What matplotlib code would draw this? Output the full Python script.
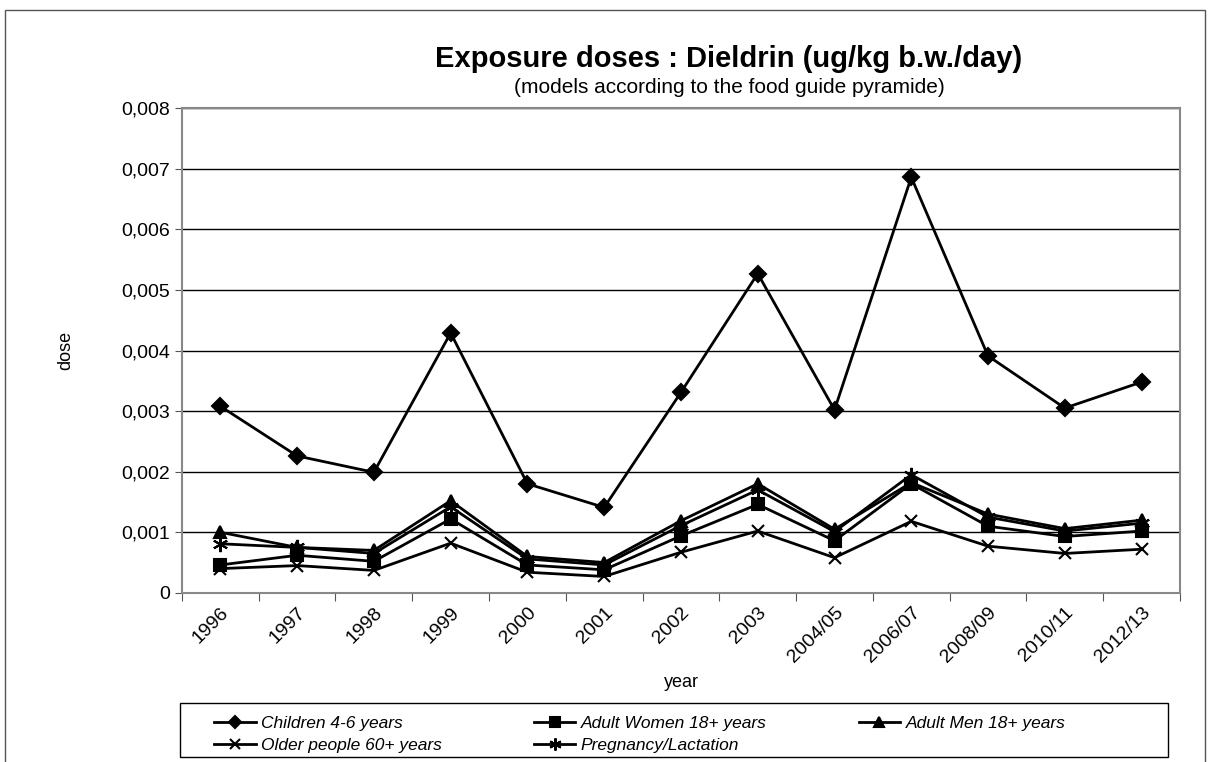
import matplotlib.pyplot as plt
from matplotlib.ticker import FuncFormatter, MultipleLocator
from matplotlib.patches import Rectangle

plt.rcParams['font.family'] = ['Liberation Sans', 'DejaVu Sans']

years = ["1996", "1997", "1998", "1999", "2000", "2001", "2002", "2003",
         "2004/05", "2006/07", "2008/09", "2010/11", "2012/13"]

children = [0.00308, 0.00226, 0.00199, 0.00429, 0.00180, 0.00141, 0.00331, 0.00527,
            0.00302, 0.00686, 0.00391, 0.00305, 0.00348]
women = [0.00046, 0.00062, 0.00052, 0.00122, 0.00046, 0.00038, 0.00094, 0.00146,
         0.00086, 0.00180, 0.00110, 0.00093, 0.00102]
men = [0.00100, 0.00075, 0.00070, 0.00152, 0.00060, 0.00050, 0.00119, 0.00180,
       0.00105, 0.00182, 0.00130, 0.00106, 0.00120]
older = [0.00040, 0.00045, 0.00037, 0.00082, 0.00034, 0.00027, 0.00067, 0.00102,
         0.00058, 0.00118, 0.00077, 0.00065, 0.00072]
pregnancy = [0.00081, 0.00075, 0.00065, 0.00142, 0.00056, 0.00046, 0.00111, 0.00170,
             0.00101, 0.00195, 0.00125, 0.00102, 0.00115]

series = [
    ("Children 4-6 years", children, "D", 8),
    ("Adult Women 18+ years", women, "s", 9),
    ("Adult Men 18+ years", men, "^", 9),
    ("Older people 60+ years", older, "x", 9),
    ("Pregnancy/Lactation", pregnancy, (6, 2, 0), 11),
]

fig = plt.figure(figsize=(12.09, 7.62), dpi=100)
# outer chart frame
fig.patches.append(Rectangle((0.004, -0.05), 0.993, 1.037, transform=fig.transFigure,
                             fill=False, edgecolor='#555555', linewidth=1))
# legend frame (drawn separately so it spans the full width)
fig.patches.append(Rectangle((0.1489, 0.0066), 0.8172, 0.0709, transform=fig.transFigure,
                             fill=False, edgecolor='black', linewidth=1))
ax = fig.add_axes([0.1505, 0.222, 0.8255, 0.636])

x = range(len(years))
handles = []
for name, vals, mk, ms in series:
    h, = ax.plot(x, vals, color='black', linewidth=2, marker=mk, markersize=ms,
                 markeredgewidth=1.5, markerfacecolor='black', markeredgecolor='black',
                 label=name)
    handles.append(h)

ax.set_xlim(-0.5, len(years) - 0.5)
ax.set_ylim(0, 0.008)
ax.yaxis.set_major_locator(MultipleLocator(0.001))
ax.yaxis.set_major_formatter(FuncFormatter(lambda v, p: "0" if v == 0 else f"{v:.3f}".replace(".", ",")))
ax.grid(axis='y', color='black', linewidth=1)
ax.set_axisbelow(True)

ax.set_xticks([i - 0.5 for i in range(len(years) + 1)], minor=False)
ax.set_xticklabels([])
ax.set_xticks(list(x), minor=True)
ax.set_xticklabels(years, minor=True, rotation=45, ha='right', rotation_mode='anchor', fontsize=14)
ax.tick_params(axis='x', which='minor', length=0, pad=8)
ax.tick_params(axis='x', which='major', length=6, direction='out', color='#555555')
ax.tick_params(axis='y', labelsize=14, length=5, color='#555555')

for s in ax.spines.values():
    s.set_color('#888888')
    s.set_linewidth(1.5)

ax.set_xlabel("year", fontsize=13, labelpad=6)
ax.set_ylabel("dose", fontsize=13, labelpad=34)

fig.text(0.603, 0.922, "Exposure doses : Dieldrin (ug/kg b.w./day)", ha='center', va='center',
         fontsize=21, fontweight='bold')
fig.text(0.603, 0.885, "(models according to the food guide pyramide)", ha='center', va='center',
         fontsize=15)

# row-wise order for a 3-column legend
order = [0, 3, 1, 4, 2]
leg = fig.legend([handles[i] for i in order], [series[i][0] for i in order],
                 loc='upper left', bbox_to_anchor=(0.177, 0.061), ncol=3,
                 frameon=False, prop={'style': 'italic', 'size': 12.5}, handlelength=2.4,
                 handletextpad=0.3, borderpad=0, borderaxespad=0, labelspacing=0.4,
                 columnspacing=5.3, markerscale=0.8)

fig.savefig("out.png", dpi=100)
